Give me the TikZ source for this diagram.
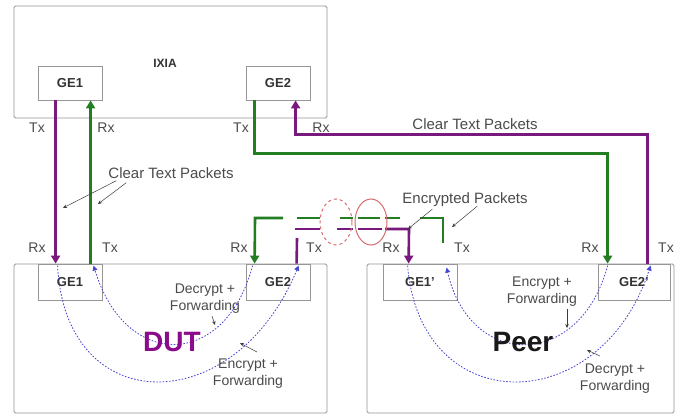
\documentclass[tikz,border=0pt]{standalone}
\usepackage{fontspec}
\setmainfont{Liberation Sans}
\usetikzlibrary{arrows.meta,calc,shapes.geometric}
\definecolor{mypurple}{RGB}{120,25,125}
\definecolor{mygreen}{RGB}{35,125,35}
\definecolor{myblue}{RGB}{70,70,210}
\definecolor{boxgray}{RGB}{150,150,150}
\definecolor{txtgray}{RGB}{75,75,75}
\definecolor{ellred}{RGB}{215,110,110}
\definecolor{dutpurple}{RGB}{140,10,140}
\begin{document}
\begin{tikzpicture}[x=1pt,y=-1pt,
  bigbox/.style={draw=boxgray, line width=0.8pt, fill=white, inner sep=0pt, rounded corners=1.5pt},
  gebox/.style={draw=boxgray, line width=0.8pt, fill=white, inner sep=0pt, font=\bfseries\fontsize{13}{13}\selectfont, text=black!80},
  pline/.style={draw=mypurple, line width=2.6pt, line join=miter},
  gline/.style={draw=mygreen, line width=2.6pt, line join=miter},
  tip/.style={-{Triangle[width=9pt,length=8pt]}},
  dotc/.style={draw=myblue, line width=0.8pt, dash pattern=on 1.6pt off 1.6pt, -{Triangle[width=5pt,length=5pt]}},
  port/.style={font=\fontsize{14}{14}\selectfont, text=txtgray, inner sep=0pt},
  note/.style={font=\fontsize{15}{15}\selectfont, text=txtgray, inner sep=0pt},
  two/.style={font=\fontsize{14}{17}\selectfont, text=txtgray, inner sep=0pt, align=center},
  pointer/.style={draw=txtgray!80!black, line width=0.5pt, -{Stealth[length=4pt,width=3.5pt]}},
  ell/.style={ellipse, draw=ellred, line width=1pt, minimum width=32pt, minimum height=46pt, inner sep=0pt}
]
\useasboundingbox (0,0) rectangle (684,417);
\fill[white] (0,0) rectangle (684,417);

% main boxes
\node[bigbox, minimum width=313pt, minimum height=112pt] (ixia) at (170.5,62) {};
\node[bigbox, minimum width=313pt, minimum height=149pt] (dut) at (170.5,338.5) {};
\node[bigbox, minimum width=307pt, minimum height=149pt] (peer) at (520.5,338.5) {};
\node[font=\bfseries\fontsize{12}{12}\selectfont, text=black!80, inner sep=0pt] (ixlbl) at (165,63) {IXIA};

% ports
\node[gebox, minimum width=64pt, minimum height=34pt] (ixA) at (70,83) {GE1};
\node[gebox, minimum width=64pt, minimum height=34pt] (ixB) at (278,83) {GE2};
\node[gebox, minimum width=64pt, minimum height=36pt] (dutA) at (70,282) {GE1};
\node[gebox, minimum width=64pt, minimum height=36pt] (dutB) at (278,282) {GE2};
\node[gebox, minimum width=74pt, minimum height=36pt] (peerA) at (420,282) {GE1'};
\node[gebox, minimum width=72pt, minimum height=36pt] (peerB) at (634,282) {GE2'};

% clear text links
\draw[pline,tip] ($(ixA.south west)+(18,0)$) -- ($(dutA.north west)+(18,0)$);
\draw[gline,tip] ($(dutA.north west)+(53,0)$) -- ($(ixA.south west)+(53,0)$);
\draw[gline,tip] ($(ixB.south west)+(9,0)$) -- ++(0,53) -| ($(peerB.north west)+(10,0)$);
\draw[pline,tip] ($(peerB.north west)+(50,0)$) -- ++(0,-129) -| ($(ixB.south west)+(50,0)$);

% tunnel (green: Peer GE1' Tx -> DUT GE2 Rx)
\coordinate (gT1) at (443,243);
\coordinate (gT2) at (443,218);
\coordinate (gT3) at (420,218);
\coordinate (gT4) at (283,218);
\coordinate (gT5) at (255,218);
\draw[gline] (gT1) -- (gT2) -- (gT3);
\draw[gline, dash pattern=on 0pt off 20pt on 15pt off 5pt on 22pt off 5pt on 13pt off 20pt on 23pt off 14pt] (gT3) -- (gT4);
\draw[gline,tip] (gT4) -- (gT5) -- ($(dutB.north west)+(9,0)$);

% tunnel (purple: DUT GE2 Tx -> Peer GE1' Rx)
\coordinate (pT1) at (297,238);
\coordinate (pT2) at (295,229);
\coordinate (pT3) at (385,229);
\coordinate (pT4) at (409,229);
\draw[pline] (pT1) -- ($(dutB.north west)+(51,0)$);
\draw[pline, dash pattern=on 25pt off 17pt on 16pt off 5pt on 24pt off 3pt] (pT2) -- (pT3);
\draw[pline,tip] (pT3) -- (pT4) -- ($(peerA.north west)+(26,0)$);

% tunnel ellipses
\node[ell, dashed] (elA) at (336,222) {};
\node[ell] (elB) at (371,222) {};

% internal forwarding curves
\draw[dotc] ($(dutB.north west)+(7,2)$) .. controls (225,370) and (125,370) .. ($(dutA.north west)+(56,2)$);
\draw[dotc] ($(dutA.north west)+(20,2)$) .. controls (65,420) and (235,420) .. ($(dutB.north west)+(53,2)$);
\draw[dotc] ($(peerB.north west)+(10,2)$) .. controls (580,370) and (470,370) .. ($(peerA.north west)+(64,4)$);
\draw[dotc] ($(peerA.north west)+(25,2)$) .. controls (420,420) and (600,420) .. ($(peerB.north west)+(53,2)$);

% big labels
\node[font=\bfseries\fontsize{28}{28}\selectfont, text=dutpurple, inner sep=0pt] (dutlbl) at (172,342) {DUT};
\node[font=\bfseries\fontsize{28}{28}\selectfont, text=black!90, inner sep=0pt] (peerlbl) at (523,342) {Peer};

% port labels
\node[port] (l1) at (37,128) {Tx};
\node[port] (l2) at (106,128) {Rx};
\node[port] (l3) at (241,128) {Tx};
\node[port] (l4) at (321,128) {Rx};
\node[port] (l5) at (37,248) {Rx};
\node[port] (l6) at (110,248) {Tx};
\node[port] (l7) at (239,248) {Rx};
\node[port] (l8) at (314,248) {Tx};
\node[port] (l9) at (391,248) {Rx};
\node[port] (l10) at (462,248) {Tx};
\node[port] (l11) at (590,248) {Rx};
\node[port] (l12) at (666,248) {Tx};

% packet notes
\node[note] (ctR) at (475,124) {Clear Text Packets};
\node[note] (ctL) at (171,173) {Clear Text Packets};
\coordinate (ctLa) at (63,208);
\coordinate (ctLb) at (98,204);
\draw[pointer] ($(ctL.south west)+(8,2)$) -- (ctLa);
\draw[pointer] ($(ctL.south west)+(18,4)$) -- (ctLb);

\node[note] (ep) at (465,200) {Encrypted Packets};
\coordinate (epa) at (408,229);
\coordinate (epb) at (452,227);
\draw[pointer] ($(ep.south west)+(30,2)$) -- (epa);
\draw[pointer] ($(ep.south west)+(75,-1)$) -- (epb);

% forwarding notes
\node[two] (dfD) at (205,299) {Decrypt +\\Forwarding};
\coordinate (dfDa) at (215,325);
\draw[pointer] ($(dfD.south)+(7,2)$) -- (dfDa);
\node[two] (efD) at (248,374) {Encrypt +\\Forwarding};
\coordinate (efDa) at (240,343);
\draw[pointer] ($(efD.north)+(9,-7)$) -- (efDa);

\node[two] (efP) at (542,292) {Encrypt +\\Forwarding};
\coordinate (efPa) at (567,328);
\draw[pointer] ($(efP.south)+(25,2)$) -- (efPa);
\node[two] (dfP) at (615,379) {Decrypt +\\Forwarding};
\coordinate (dfPa) at (587,350);
\draw[pointer] ($(dfP.north)+(-15,-8)$) -- (dfPa);
\end{tikzpicture}
\end{document}
